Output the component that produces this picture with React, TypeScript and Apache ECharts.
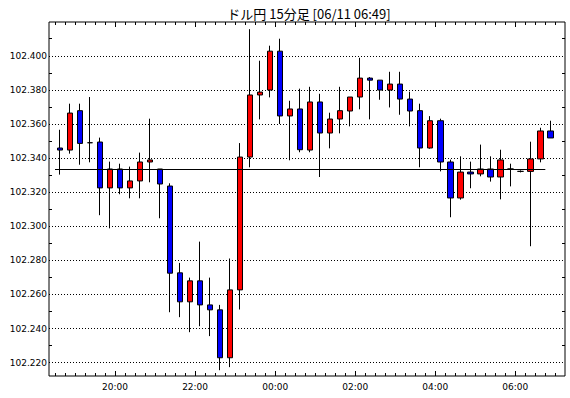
import React, { useEffect, useRef } from 'react';
import * as echarts from 'echarts';

const chartTitle = 'ドル円 15分足 [06/11 06:49]';

const times = [
  '18:30', '18:45', '19:00', '19:15', '19:30', '19:45', '20:00', '20:15', '20:30', '20:45',
  '21:00', '21:15', '21:30', '21:45', '22:00', '22:15', '22:30', '22:45', '23:00', '23:15',
  '23:30', '23:45', '00:00', '00:15', '00:30', '00:45', '01:00', '01:15', '01:30', '01:45',
  '02:00', '02:15', '02:30', '02:45', '03:00', '03:15', '03:30', '03:45', '04:00', '04:15',
  '04:30', '04:45', '05:00', '05:15', '05:30', '05:45', '06:00', '06:15', '06:30', '06:45',
];

const opens = [
  102.3459, 102.3447, 102.3678, 102.349, 102.3494, 102.3225, 102.3336, 102.3225, 102.3266, 102.3377,
  102.3336, 102.3236, 102.2727, 102.2557, 102.268, 102.2539, 102.251, 102.2229, 102.2627, 102.3406,
  102.377, 102.3799, 102.4027, 102.3647, 102.3688, 102.3447, 102.3729, 102.3547, 102.3629, 102.3676,
  102.3758, 102.3869, 102.3857, 102.3799, 102.3834, 102.3746, 102.3678, 102.3459, 102.3619, 102.3377,
  102.3166, 102.3318, 102.3307, 102.3336, 102.3289, 102.3336, 102.3322, 102.3322, 102.3395, 102.3559,
];

const closes = [
  102.3447, 102.3664, 102.3486, 102.349, 102.3225, 102.3336, 102.3225, 102.3266, 102.3377, 102.3389,
  102.3248, 102.2725, 102.2557, 102.268, 102.2539, 102.251, 102.2229, 102.2627, 102.3406, 102.377,
  102.3787, 102.4027, 102.3647, 102.3688, 102.3449, 102.3729, 102.3547, 102.3629, 102.3678, 102.3758,
  102.3869, 102.3857, 102.3799, 102.3834, 102.3746, 102.3676, 102.3459, 102.3619, 102.3377, 102.3166,
  102.3318, 102.3307, 102.3336, 102.3289, 102.3389, 102.3336, 102.3322, 102.3395, 102.3559, 102.3518,
];

const lows = [
  102.3303, 102.3426, 102.3361, 102.3375, 102.3065, 102.2988, 102.3188, 102.3164, 102.3164, 102.3258,
  102.3047, 102.2496, 102.2467, 102.2379, 102.2414, 102.2356, 102.2156, 102.2174, 102.2512, 102.3346,
  102.3627, 102.3756, 102.36, 102.3387, 102.3434, 102.3434, 102.3289, 102.3457, 102.3545, 102.3586,
  102.3686, 102.3627, 102.3742, 102.3697, 102.3654, 102.3586, 102.3346, 102.3455, 102.3322, 102.3053,
  102.3156, 102.3223, 102.3293, 102.3262, 102.3158, 102.3234, 102.3316, 102.2883, 102.3375, 102.3518,
];

const highs = [
  102.3566, 102.3719, 102.3719, 102.3758, 102.352, 102.3379, 102.3367, 102.335, 102.3432, 102.3631,
  102.3336, 102.3252, 102.2785, 102.2699, 102.291, 102.2699, 102.2539, 102.2811, 102.3488, 102.4156,
  102.3971, 102.4059, 102.41, 102.3736, 102.3807, 102.3818, 102.3777, 102.3666, 102.3818, 102.3758,
  102.3988, 102.3875, 102.3857, 102.3906, 102.3906, 102.3789, 102.3719, 102.3646, 102.3631, 102.3391,
  102.341, 102.3379, 102.3479, 102.341, 102.3449, 102.3367, 102.3328, 102.3496, 102.3578, 102.3619,
];

const refLevel = 102.3333;

const yLabelValues = [102.22, 102.24, 102.26, 102.28, 102.3, 102.32, 102.34, 102.36, 102.38, 102.4];
const yMinorTicks = [102.23, 102.25, 102.27, 102.29, 102.31, 102.33, 102.35, 102.37, 102.39, 102.41];
const xLabels = ['20:00', '22:00', '00:00', '02:00', '04:00', '06:00'];

// minutes relative to 20:00 (overnight wraps to next day)
function toMin(t: string): number {
  const [h, m] = t.split(':').map(Number);
  let v = h * 60 + m - 20 * 60;
  if (v < -240) v += 1440;
  return v;
}

const X_MIN = -99;
const X_MAX = 674.5;
const Y_MIN = 102.2122;
const Y_MAX = 102.4198;

export default function App() {
  const ref = useRef<HTMLDivElement>(null);

  useEffect(() => {
    if (!ref.current) return;
    const chart = echarts.init(ref.current, undefined, { renderer: 'svg' });

    const xLabelPos = xLabels.map(toMin);
    const minorX: number[] = [];
    for (let m = -90; m <= X_MAX; m += 15) minorX.push(m);

    const candleData = times.map((t, i) => [toMin(t) + 7.5, opens[i], closes[i], lows[i], highs[i]]);

    const font = 'DejaVu Sans';

    const baseX = {
      type: 'value' as const,
      min: X_MIN,
      max: X_MAX,
      axisLine: { show: false, onZero: false },
      splitLine: { show: false },
    };
    const baseY = {
      type: 'value' as const,
      min: Y_MIN,
      max: Y_MAX,
      axisLine: { show: false, onZero: false },
      splitLine: { show: false },
    };

    chart.setOption({
      animation: false,
      backgroundColor: '#ffffff',
      grid: {
        left: 49,
        top: 22,
        width: 516,
        height: 354,
        show: true,
        borderColor: '#000',
        borderWidth: 1,
        backgroundColor: '#ffffff',
      },
      graphic: [
        {
          type: 'text',
          x: 309,
          y: 13,
          style: {
            text: chartTitle,
            fontSize: 13,
            fontFamily: '"Noto Sans CJK JP"',
            fill: '#000',
            align: 'center',
            verticalAlign: 'middle',
          },
        },
      ],
      xAxis: [
        {
          ...baseX,
          position: 'bottom',
          axisTick: { show: true, inside: true, length: 5, customValues: xLabelPos, lineStyle: { color: '#000' } },
          axisLabel: {
            show: true,
            customValues: xLabelPos,
            margin: 6,
            color: '#000',
            fontSize: 9,
            fontFamily: font,
            formatter: (v: number) => {
              const i = xLabelPos.indexOf(v);
              return i >= 0 ? xLabels[i] : '';
            },
          },
        },
        {
          ...baseX,
          position: 'bottom',
          axisTick: { show: true, inside: true, length: 3, customValues: minorX, lineStyle: { color: '#000' } },
          axisLabel: { show: false },
        },
        {
          ...baseX,
          position: 'top',
          axisTick: { show: true, inside: true, length: 5, customValues: xLabelPos, lineStyle: { color: '#000' } },
          axisLabel: { show: false },
        },
        {
          ...baseX,
          position: 'top',
          axisTick: { show: true, inside: true, length: 3, customValues: minorX, lineStyle: { color: '#000' } },
          axisLabel: { show: false },
        },
      ],
      yAxis: [
        {
          ...baseY,
          position: 'left',
          axisTick: { show: true, inside: true, length: 3, customValues: yMinorTicks, lineStyle: { color: '#000' } },
          axisLabel: {
            show: true,
            customValues: yLabelValues,
            margin: 2,
            color: '#000',
            fontSize: 9,
            fontFamily: font,
            formatter: (v: number) => v.toFixed(3),
          },
        },
        {
          ...baseY,
          position: 'right',
          axisTick: { show: true, inside: true, length: 3, customValues: yMinorTicks, lineStyle: { color: '#000' } },
          axisLabel: { show: false },
        },
      ],
      series: [
        {
          type: 'line',
          data: [],
          z: 1,
          silent: true,
          markLine: {
            silent: true,
            z: 1,
            symbol: ['none', 'none'],
            label: { show: false },
            lineStyle: { color: '#000', type: [1, 2], width: 1 },
            emphasis: { disabled: true },
            data: yLabelValues.map((v) => ({ yAxis: v })),
          },
        },
        {
          type: 'candlestick',
          z: 3,
          barWidth: 6,
          encode: { x: 0, y: [1, 2, 3, 4] },
          data: candleData,
          itemStyle: {
            color: '#ff0000',
            color0: '#0000ff',
            borderColor: '#000',
            borderColor0: '#000',
            borderColorDoji: '#000',
            borderWidth: 1,
          },
        },
        {
          type: 'line',
          z: 4,
          silent: true,
          symbol: 'none',
          lineStyle: { color: '#000', width: 1 },
          data: [
            [toMin(times[0]), refLevel],
            [toMin(times[times.length - 1]), refLevel],
          ],
        },
      ],
    });

    return () => chart.dispose();
  }, []);

  return (
    <div style={{ position: 'fixed', left: 0, top: 0, width: 570, height: 398, background: '#fff' }}>
      <div ref={ref} style={{ width: 570, height: 398 }} />
    </div>
  );
}
